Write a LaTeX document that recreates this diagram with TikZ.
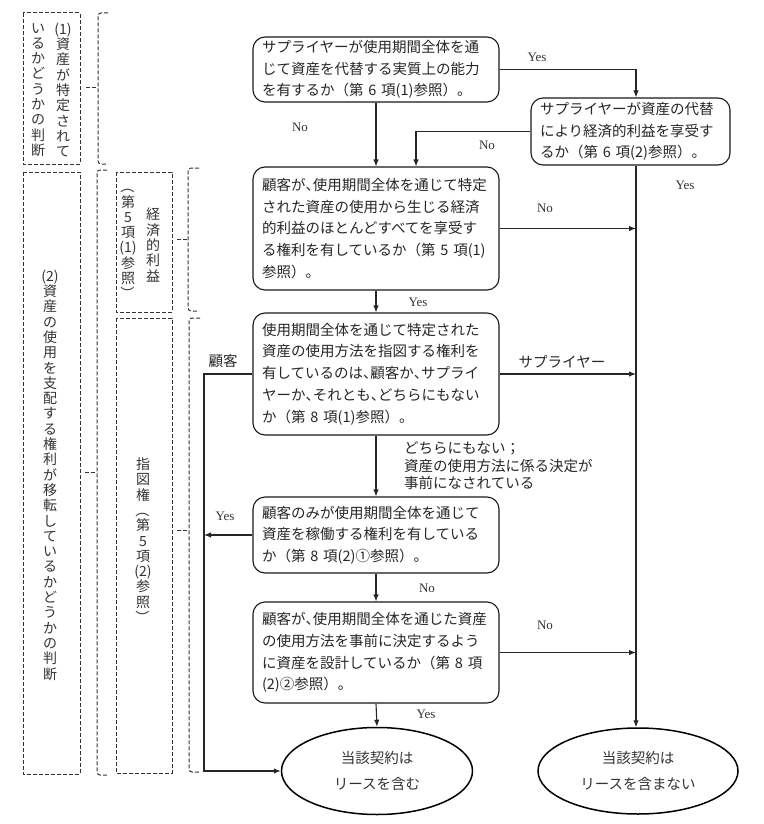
\documentclass[tikz,border=0pt]{standalone}
\usepackage{fontspec}
\usepackage{graphicx}
\setmainfont{Liberation Serif}
\newfontfamily\jp{Noto Sans CJK JP}
\usetikzlibrary{arrows.meta,shapes.geometric}
\newcommand\hc{\makebox[0.5em][l]{、}}
\newcommand\vop{\rotatebox[origin=c]{-90}{（}}
\newcommand\vcl{\rotatebox[origin=c]{-90}{）}}
\begin{document}
\begin{tikzpicture}[x=1pt,y=-1pt,
  qbox/.style={draw=black!90, line width=1.1pt, rounded corners=12pt, minimum width=246pt,
    inner sep=0pt, text width=228pt, align=left, text=black!85,
    font=\jp\fontsize{14.5}{21.7}\selectfont},
  ebox/.style={ellipse, draw=black, line width=1.5pt, inner sep=0pt, align=center, text=black!80,
    font=\jp\fontsize{14.5}{26}\selectfont},
  arr/.style={draw=black!85, line width=1.1pt, -{Latex[length=7pt,width=5.5pt]}},
  lab/.style={font=\fontsize{13}{15}\selectfont, text=black!80, inner sep=1pt},
  jlab/.style={font=\jp\fontsize{14.5}{17.5}\selectfont, text=black!85, inner sep=1pt, align=left},
  dsh/.style={draw=black!80, line width=1pt, dash pattern=on 4pt off 2pt},
  vcol/.style={align=center, inner sep=0pt, text=black!80, font=\jp\fontsize{14}{15.3}\selectfont}
]
\useasboundingbox (0,0) rectangle (763,824);

% guide coordinates
\coordinate (R) at (636,0);
\coordinate (L1) at (416,0);
\coordinate (Lx) at (204,0);

% decision boxes
\node[qbox, minimum height=65pt] (b1) at (376,69.5) {サプライヤーが使用期間全体を通\\じて資産を代替する実質上の能力\\を有するか（第 6 項(1)参照）。};
\node[qbox, minimum width=199pt, text width=181pt, minimum height=67pt] (b2) at (630.5,131.5) {サプライヤーが資産の代替\\により経済的利益を享受す\\るか（第 6 項(2)参照）。};
\node[qbox, minimum height=123pt] (b3) at (376,228.5) {顧客が\hc 使用期間全体を通じて特定\\された資産の使用から生じる経済\\的利益のほとんどすべてを享受す\\る権利を有しているか（第 5 項(1)\\参照）。};
\node[qbox, minimum height=122pt] (b4) at (376,374) {使用期間全体を通じて特定された\\資産の使用方法を指図する権利を\\有しているのは\hc 顧客か\hc サプライ\\ヤーか\hc それとも\hc どちらにもない\\か（第 8 項(1)参照）。};
\node[qbox, minimum height=76pt] (b5) at (376,535) {顧客のみが使用期間全体を通じて\\資産を稼働する権利を有している\\か（第 8 項(2)①参照）。};
\node[qbox, minimum height=101pt] (b6) at (376,652.5) {顧客が\hc 使用期間全体を通じた資産\\の使用方法を事前に決定するよう\\に資産を設計しているか（第 8 項\\(2)②参照）。};

% terminal ellipses
\node[ebox, minimum width=191pt, minimum height=87pt] (e1) at (377,771) {当該契約は\\リースを含む};
\node[ebox, minimum width=200pt, minimum height=86pt] (e2) at (638,771) {当該契約は\\リースを含まない};

% connectors
\draw[arr] (b1.east) -| (b2.north -| R);
\draw[arr] (b1.south) -- (b3.north);
\draw[arr] (b2.west) -| (b3.north -| L1);
\draw[arr] (b2.south -| R) -- (e2.north -| R);
\draw[arr] (b3.east) -- (b3.east -| R);
\draw[arr] (b3.south) -- (b4.north);
\draw[arr] (b4.east) -- (b4.east -| R);
\draw[arr] (b4.west) -- (b4.west -| Lx) -- (e1.west -| Lx) -- (e1.west);
\draw[arr] (b4.south) -- (b5.north);
\draw[arr] (b5.west) -- (b5.west -| Lx);
\draw[arr] (b5.south) -- (b6.north);
\draw[arr] (b6.east) -- (b6.east -| R);
\draw[arr] (b6.south) -- (e1.north);

% connector labels
\node[lab] (y1) at (537,57) {Yes};
\node[lab] (n1) at (300,127) {No};
\node[lab] (n2) at (487,145) {No};
\node[lab] (y2) at (685,185) {Yes};
\node[lab] (n3) at (545,208) {No};
\node[lab] (y3) at (418,302) {Yes};
\node[jlab] (k1) at (223,361) {顧客};
\node[jlab] (s1) at (562,362) {サプライヤー};
\node[jlab, anchor=west] (d1) at (403,466) {どちらにもない；\\資産の使用方法に係る決定が\\事前になされている};
\node[lab] (y4) at (225,516) {Yes};
\node[lab] (n4) at (427,588) {No};
\node[lab] (n5) at (545,625) {No};
\node[lab] (y5) at (426,714) {Yes};

% left side dashed frames
\draw[dsh] (23,13) rectangle (80,164);
\node[vcol] (ta1) at (63,90) {(1)\\資\\産\\が\\特\\定\\さ\\れ\\て};
\node[vcol] (ta2) at (38,90) {い\\る\\か\\ど\\う\\か\\の\\判\\断};
\draw[dsh, rounded corners=3pt] (108,13) -- (98,13) -- (98,164) -- (108,164);
\draw[dsh] (86,88) -- (98,88);

\draw[dsh] (23,172) rectangle (80,774);
\node[vcol] (tb) at (50,475) {(2)\\資\\産\\の\\使\\用\\を\\支\\配\\す\\る\\権\\利\\が\\移\\転\\し\\て\\い\\る\\か\\ど\\う\\か\\の\\判\\断};
\draw[dsh, rounded corners=3pt] (107,170) -- (97,170) -- (97,775) -- (107,775);
\draw[dsh] (85,472) -- (97,472);

\draw[dsh] (116,172) rectangle (172,312);
\node[vcol] (tc1) at (153,245) {経\\済\\的\\利\\益};
\node[vcol] (tc2) at (128,240) {\vop\\第\\5\\項\\(1)\\参\\照\\\vcl};
\draw[dsh, rounded corners=3pt] (199,168) -- (188,168) -- (188,311) -- (199,311);
\draw[dsh] (177,239) -- (188,239);

\draw[dsh] (116,318) rectangle (172,773);
\node[vcol] (td) at (143,541) {指\\図\\権\\\vop\\第\\5\\項\\(2)\\参\\照\\\vcl};
\draw[dsh, rounded corners=3pt] (200,318) -- (189,318) -- (189,772) -- (200,772);
\draw[dsh] (177,530) -- (189,530);
\end{tikzpicture}
\end{document}
